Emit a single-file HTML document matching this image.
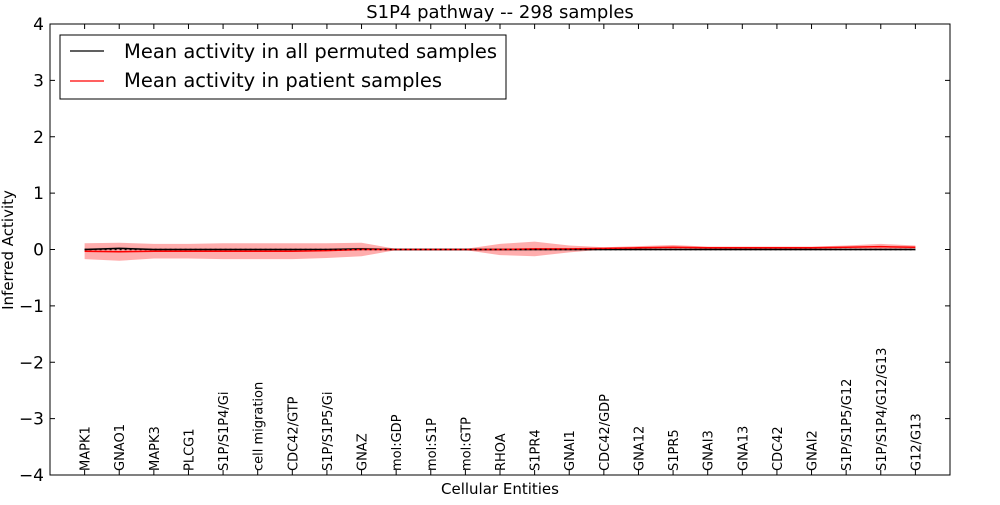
<!DOCTYPE html>
<html><head><meta charset="utf-8"><style>
body{margin:0;background:#fff;}
svg text{font-family:"DejaVu Sans","Liberation Sans",sans-serif;}
</style></head><body>
<svg id="chart" width="1000" height="500" xmlns="http://www.w3.org/2000/svg">
<g id="plot"></g>
<rect x="50" y="24" width="900" height="451" fill="none" stroke="#000" stroke-width="1"/>
<text x="500" y="18" text-anchor="middle" font-size="18">S1P4 pathway -- 298 samples</text>
<text x="500" y="494" text-anchor="middle" font-size="15">Cellular Entities</text>
<text transform="translate(13,250) rotate(-90)" text-anchor="middle" font-size="15">Inferred Activity</text>
<g id="yticks"></g>
<g id="xticks"></g>
<g>
<rect x="60" y="35" width="446" height="64" fill="#fff" stroke="#000"/>
<line x1="70" y1="51" x2="104" y2="51" stroke="#000" stroke-width="1.2"/>
<text x="124" y="58" font-size="19.5">Mean activity in all permuted samples</text>
<line x1="70" y1="81" x2="104" y2="81" stroke="#f00" stroke-width="1.2"/>
<text x="124" y="87" font-size="19.5">Mean activity in patient samples</text>
</g>
</svg>
<script>
const categories=["MAPK1","GNAO1","MAPK3","PLCG1","S1P/S1P4/Gi","cell migration","CDC42/GTP","S1P/S1P5/Gi","GNAZ","mol:GDP","mol:S1P","mol:GTP","RHOA","S1PR4","GNAI1","CDC42/GDP","GNA12","S1PR5","GNAI3","GNA13","CDC42","GNAI2","S1P/S1P5/G12","S1P/S1P4/G12/G13","G12/G13"];
const patientMean=[-0.03,-0.04,-0.03,-0.03,-0.03,-0.03,-0.03,-0.02,0.0,0.0,0.0,0.0,0.0,0.01,0.01,0.02,0.03,0.04,0.03,0.03,0.03,0.03,0.04,0.05,0.04];
const patientStd=[0.14,0.16,0.13,0.13,0.14,0.14,0.14,0.13,0.12,0.01,0.01,0.01,0.1,0.13,0.06,0.02,0.03,0.04,0.02,0.02,0.02,0.02,0.03,0.05,0.03];
const permutedMean=[0.0,0.02,0.0,0.0,0.0,0.0,0.0,0.0,0.01,0.0,0.0,0.0,0.0,0.0,0.0,0.0,0.0,0.0,0.0,0.0,0.0,0.0,0.0,0.0,0.0];
const permutedStd=[0.02,0.02,0.02,0.02,0.02,0.02,0.02,0.02,0.02,0.02,0.02,0.02,0.02,0.02,0.02,0.02,0.02,0.02,0.02,0.02,0.02,0.02,0.02,0.02,0.02];
const yTickValues=[-4,-3,-2,-1,0,1,2,3,4];
const yTickLabels=["\u22124","\u22123","\u22122","\u22121","0","1","2","3","4"];
const NS="http://www.w3.org/2000/svg";
const X=i=>50+(i+1)*900/(categories.length+1);
const Y=v=>249.5-v*451/8;
function mk(t,a,p){const e=document.createElementNS(NS,t);for(const k in a)e.setAttribute(k,a[k]);p.appendChild(e);return e;}
const plot=document.getElementById('plot');
function band(m,s,fill,op,name){
  let d=m.map((v,i)=>(i?'L':'M')+X(i)+','+Y(v+s[i])).join('');
  for(let i=m.length-1;i>=0;i--)d+='L'+X(i)+','+Y(m[i]-s[i]);
  const e=mk('path',{d:d+'Z',fill:fill,'fill-opacity':op,stroke:'none'},plot);
  
  
}
function line(m,col,name,dash){
  const e=mk('path',{d:m.map((v,i)=>(i?'L':'M')+X(i)+','+Y(v)).join(''),fill:'none',stroke:col,'stroke-width':1.5},plot);
  if(dash)e.setAttribute('stroke-dasharray',dash);
  
  
}
band(permutedMean,permutedStd,'#999',0.4,'permuted-band');
band(patientMean,patientStd,'#f33',0.4,'patient-band');
line(permutedMean,'#000','permuted-mean-line');
line(patientMean,'#f00','patient-mean-line');
line(permutedMean.map(()=>0),'#000','zero-dotted-line','2,3');
const yt=document.getElementById('yticks');
yTickValues.forEach((v,i)=>{
  const y=Y(v);
  mk('line',{x1:50,x2:55,y1:y,y2:y,stroke:'#000'},yt);
  mk('line',{x1:945,x2:950,y1:y,y2:y,stroke:'#000'},yt);
  const t=mk('text',{x:44,y:y+6,'text-anchor':'end','font-size':17},yt);
  t.textContent=yTickLabels[i];
  
  
});
const xt=document.getElementById('xticks');
categories.forEach((c,i)=>{
  const x=X(i);
  mk('line',{x1:x,x2:x,y1:475,y2:470,stroke:'#000'},xt);
  mk('line',{x1:x,x2:x,y1:24,y2:29,stroke:'#000'},xt);
  const t=mk('text',{transform:`translate(${x+5},471) rotate(-90)`,'font-size':13},xt);
  t.textContent=c;
  
  
});
</script>
</body></html>
